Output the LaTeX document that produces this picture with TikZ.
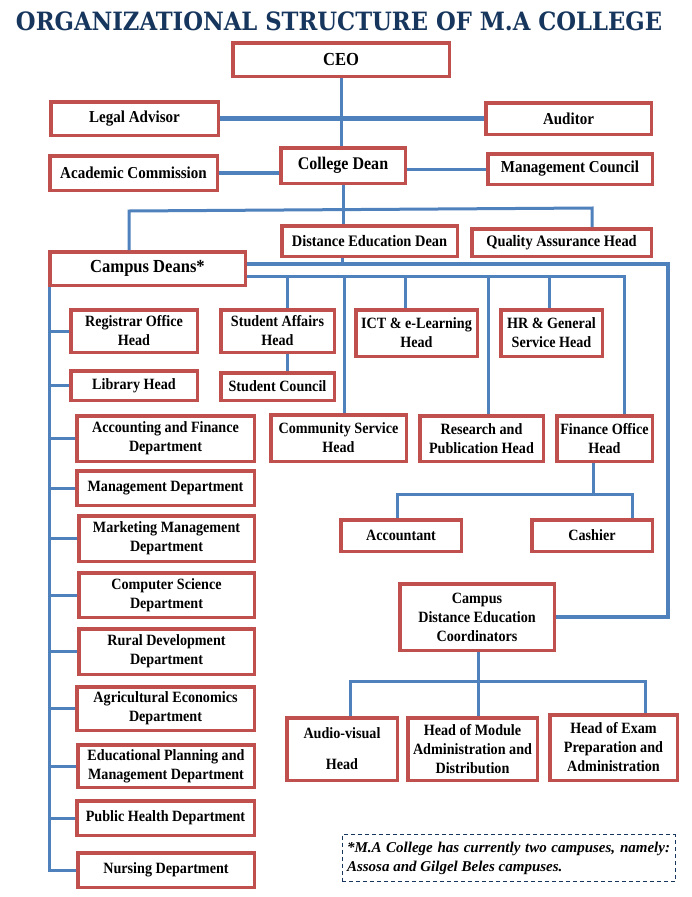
\documentclass[tikz,border=0pt]{standalone}
\usepackage{fontspec}
\setmainfont{Liberation Serif}
\newfontfamily\boxfont{Liberation Serif}[FakeStretch=0.9]
\newfontfamily\titlefont{DejaVu Serif Condensed}
\definecolor{boxred}{RGB}{192,80,77}
\definecolor{lineblue}{RGB}{79,129,189}
\definecolor{titlenavy}{RGB}{23,54,93}
\newcommand\obox[7][]{\node[orgbox,#1,minimum width={(#5-#3-3.5)*1pt},minimum height={(#6-#4-3.5)*1pt}] (#2) at ({(#3+#5)/2},{(#4+#6)/2}) {#7};}
\begin{document}
\begin{tikzpicture}[x=1pt,y=-1pt,
  orgbox/.style={draw=boxred,line width=3.5pt,fill=white,inner sep=0pt,align=center,
    font=\boxfont\bfseries\fontsize{15.7}{19}\selectfont},
  fbig/.style={font=\boxfont\bfseries\fontsize{18.4}{22}\selectfont},
  fdean/.style={font=\boxfont\bfseries\fontsize{17.8}{21}\selectfont},
  ftop/.style={font=\boxfont\bfseries\fontsize{16.7}{20}\selectfont},
  fded/.style={font=\boxfont\bfseries\fontsize{16}{19}\selectfont},
  conn/.style={draw=lineblue,line width=3pt},
  heavyconn/.style={draw=lineblue,line width=4.5pt},
  notebox/.style={draw=titlenavy,line width=1pt,dash pattern=on 4pt off 3pt,fill=white,
    text width=323pt,inner xsep=5pt,inner ysep=4pt,align=justify,
    font=\bfseries\itshape\fontsize{15}{19}\selectfont}
]
\fill[white] (0,0) rectangle (692,897);
\useasboundingbox (0,0) rectangle (692,897);

% title
\node[anchor=base,text=titlenavy,inner sep=0pt] (title) at (339,30) {\resizebox{646pt}{!}{\titlefont\bfseries\fontsize{24}{28}\selectfont ORGANIZATIONAL STRUCTURE OF M.A COLLEGE}};

% top boxes
\obox[fbig]{ceo}{231}{41}{451}{78}{CEO}
\obox[ftop]{legal}{49}{100}{220}{137}{Legal Advisor}
\obox[ftop]{auditor}{484}{101}{653}{136}{Auditor}
\obox[fdean]{cdean}{279}{146}{407}{185}{College Dean}
\obox[ftop]{acad}{48}{154}{219}{192}{Academic Commission}
\obox[ftop]{mgmt}{486}{152}{654}{186}{Management Council}
\obox[fded]{ded}{280}{224}{459}{258}{Distance Education Dean}
\obox[fded]{qah}{470}{227}{653}{258}{Quality Assurance Head}
\obox[fbig]{campus}{48}{250}{247}{287}{Campus Deans*}

% second level
\obox{reg}{69}{308}{199}{354}{Registrar Office\\Head}
\obox{lib}{69}{369}{199}{402}{Library Head}
\obox{sa}{219}{308}{336}{354}{Student Affairs\\Head}
\obox{sc}{219}{371}{336}{402}{Student Council}
\obox{ict}{354}{308}{479}{358}{ICT \& e-Learning\\Head}
\obox{hr}{499}{308}{604}{358}{HR \& General\\Service Head}
\obox{acc}{75}{414}{256}{463}{Accounting and Finance\\Department}
\obox{comm}{269}{413}{408}{463}{Community Service\\Head}
\obox{res}{418}{414}{545}{463}{Research and\\Publication Head}
\obox{fin}{555}{414}{654}{463}{Finance Office\\Head}
\obox{mgd}{75}{469}{256}{507}{Management Department}
\obox{mkt}{77}{514}{256}{563}{Marketing Management\\Department}
\obox{cs}{77}{571}{256}{619}{Computer Science\\Department}
\obox{rd}{77}{627}{256}{676}{Rural Development\\Department}
\obox{ag}{75}{685}{256}{732}{Agricultural Economics\\Department}
\obox{ep}{76}{743}{256}{789}{Educational Planning and\\Management Department}
\obox{ph}{75}{799}{256}{837}{Public Health Department}
\obox{nur}{76}{851}{256}{889}{Nursing Department}
\obox{accountant}{339}{518}{463}{553}{Accountant}
\obox{cashier}{530}{518}{654}{553}{Cashier}
\obox{cdec}{398}{582}{556}{652}{Campus\\Distance Education\\Coordinators}
\obox{av}{285}{716}{399}{782}{Audio-visual\\[12pt]Head}
\obox{hm}{406}{716}{539}{782}{Head of Module\\Administration and\\Distribution}
\obox{he}{548}{713}{679}{782}{Head of Exam\\Preparation and\\Administration}

\node[notebox,minimum height=47pt] (note) at (508.5,858) {*M.A College has currently two campuses, namely:\linebreak Assosa and Gilgel Beles campuses.};

% connector coordinates
\coordinate (h1l) at (129,211);
\coordinate (h1r) at (592,208);
\coordinate (h2r) at (668,264);
\coordinate (dedj) at (342,264);
\coordinate (h3r) at (624,276);
\coordinate (bsa) at (287,276);
\coordinate (bcomm) at (344,276);
\coordinate (bict) at (405,276);
\coordinate (bres) at (488,276);
\coordinate (bhr) at (549,276);
\coordinate (sp) at (49,870);
\coordinate (fj) at (593,494);
\coordinate (fl) at (397,494);
\coordinate (fr) at (632,494);
\coordinate (cj) at (478,681);
\coordinate (cl) at (350,681);
\coordinate (cr) at (645,681);

% connectors
\draw[conn] (ceo.south) -- (ceo.south |- cdean.north);
\draw[heavyconn] (legal.east) -- (legal.east -| auditor.west);
\draw[conn,line width=4pt] (acad.east) -- (acad.east -| cdean.west);
\draw[conn] (mgmt.west) -- (mgmt.west -| cdean.east);
\draw[conn] (cdean.south) -- (cdean.south |- ded.north);
\draw[conn] (h1l |- campus.north) -- (h1l) -- (h1r) -- (h1r |- qah.north);
\draw[conn,line width=3.5pt] (campus.east |- h2r) -- (h2r) -- (h2r |- cdec.east) -- (cdec.east);
\draw[conn] (dedj |- ded.south) -- (dedj);
\draw[conn] (campus.east |- h3r) -- (h3r) -- (h3r |- fin.north);
\draw[conn] (bsa) -- (bsa |- sa.north);
\draw[conn] (bsa |- sa.south) -- (bsa |- sc.north);
\draw[conn] (bcomm) -- (bcomm |- comm.north);
\draw[conn] (bict) -- (bict |- ict.north);
\draw[conn] (bres) -- (bres |- res.north);
\draw[conn] (bhr) -- (bhr |- hr.north);
\draw[conn] (sp |- campus.south) -- (sp |- nur.west) -- (nur.west);
\foreach \n in {reg,lib,acc,mgd,mkt,cs,rd,ag,ep,ph}
  \draw[conn] (sp |- \n.west) -- (\n.west);
\draw[conn] (fj |- fin.south) -- (fj);
\draw[conn] (fl |- accountant.north) -- (fl) -- (fr) -- (fr |- cashier.north);
\draw[conn] (cj |- cdec.south) -- (cj) -- (cj |- hm.north);
\draw[conn] (cl |- av.north) -- (cl) -- (cr) -- (cr |- he.north);
\end{tikzpicture}
\end{document}
